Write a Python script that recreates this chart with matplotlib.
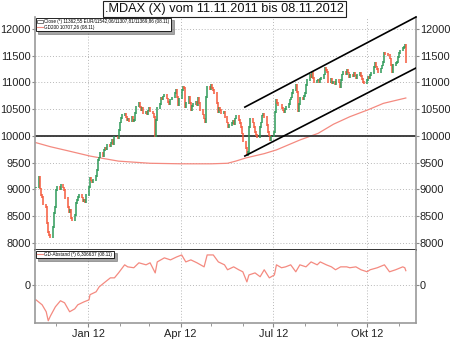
import numpy as np
import pandas as pd
import matplotlib
matplotlib.use("Agg")
import matplotlib.pyplot as plt
from matplotlib.lines import Line2D
from matplotlib.patches import Patch

plt.rcParams['font.family'] = ['Liberation Sans', 'DejaVu Sans']

# ---- data ----
closes = [
    9040, 9230, 9020, 8900, 8860, 8720, 8670, 8370, 8200, 8150,
    8110, 8300, 8560, 8670, 8990, 9050, 9010, 9080, 9040, 8990,
    8840, 8670, 8580, 8620, 8470, 8430, 8520, 8750, 8800, 8860,
    8900, 8850, 8780, 8800, 8760, 8900, 9050, 9210, 9170, 9140,
    9180, 9250, 9360, 9550, 9600, 9680, 9620, 9740, 9780, 9760,
    9830, 9800, 9870, 9920, 9850, 9980, 9950, 10110, 10250, 10340,
    10390, 10420, 10350, 10290, 10330, 10280, 10350, 10270, 10300, 10430,
    10550, 10620, 10540, 10490, 10530, 10420, 10450, 10400, 10480, 10520,
    10460, 10420, 10360, 9990, 10300, 10520, 10600, 10710, 10680, 10740,
    10770, 10700, 10640, 10600, 10680, 10720, 10800, 10860, 10730, 10580,
    10700, 10860, 10920, 10900, 10540, 10620, 10730, 10620, 10490, 10560,
    10600, 10640, 10580, 10710, 10620, 10490, 10400, 10330, 10260, 10730,
    10920, 10880, 10950, 10900, 10860, 10800, 10620, 10450, 10520, 10490,
    10420, 10450, 10360, 10250, 10170, 10200, 10240, 10280, 10220, 10330,
    10380, 10300, 10240, 10170, 10050, 9900, 9780, 9650, 9700, 10170,
    10330, 10250, 10170, 10080, 10020, 9980, 10170, 10250, 10380, 10420,
    10350, 10200, 10070, 10010, 9930, 9990, 10080, 10450, 10680, 10620,
    10580, 10520, 10480, 10450, 10510, 10540, 10600, 10680, 10720, 10800,
    10860, 10950, 10820, 10470, 10600, 10710, 10680, 10750, 10800, 10950,
    11050, 11140, 11100, 11180, 11080, 11010, 11040, 11050, 11000, 11060,
    11080, 11150, 11270, 11230, 11200, 11010, 11060, 10980, 11010, 10960,
    11050, 11000, 10920, 11050, 11150, 11200, 11160, 11230, 11190, 11100,
    11150, 11120, 11180, 11130, 11080, 11140, 11180, 11120, 11060, 11010,
    10990, 11050, 11100, 11080, 11140, 11180, 11290, 11360, 11300, 11250,
    11200, 11260, 11320, 11380, 11550, 11530, 11510, 11450, 11330, 11200,
    11330, 11360, 11380, 11480, 11550, 11600, 11640, 11660, 11700, 11370,
]
last_day = '2012-11-08'

ma_days = [0, 10, 22, 37, 45, 57, 80, 101, 122, 134, 140, 146, 160, 168,
           185, 197, 208, 220, 232, 243, 259]
ma_vals = [9875, 9800, 9720, 9625, 9590, 9530, 9490, 9480, 9480, 9490, 9530,
           9590, 9670, 9740, 9925, 10050, 10220, 10360, 10490, 10610, 10710]

dist_days = [0, 4, 6, 8, 10, 13, 16, 20, 23, 26, 29, 33, 36, 37, 41, 44, 48,
             51, 55, 57, 61, 64, 68, 71, 76, 80, 83, 85, 90, 94, 98, 101, 105,
             108, 112, 117, 120, 124, 127, 131, 134, 138, 141, 145, 147, 149,
             153, 156, 160, 163, 166, 168, 171, 175, 178, 181, 185, 189, 192,
             196, 199, 203, 206, 210, 213, 217, 220, 224, 227, 231, 234, 239,
             244, 247, 251, 256, 258, 259]
dist_vals = [-6.7, -8.9, -12, -16, -14, -9.8, -7.1, -8, -12, -10.7, -8.9, -7.6,
             -6.7, -4.4, -3.1, -0.9, 1.3, 3.1, 3.1, 5.3, 8.9, 8, 7.6, 9.8, 8.9,
             9.8, 5.3, 10.2, 12, 11.1, 12.4, 13.3, 10.2, 11.1, 9.8, 8, 13.3,
             13.3, 10.2, 8.9, 6.7, 8, 6.7, 5.8, 1.3, 4.4, 5.3, 3.6, 6.7, 3.1,
             4.4, 8.9, 7.6, 8, 8.9, 5.8, 8.9, 8, 10.2, 8.9, 10.2, 8.9, 8, 6.7,
             8, 8, 7.6, 8, 6.7, 5.8, 6.7, 7.6, 8.9, 5.8, 6.7, 8, 7.6, 6.3]

support_level = 10000
channel_dates = ['2012-06-03', '2012-11-18']
channel_upper = [10540, 12224]
channel_lower = [9626, 11271]

title = '.MDAX (X) vom 11.11.2011 bis 08.11.2012'
legend_close = 'Close (*) 11362,55 EUR/11542,06/11307,81/11369,86 (08.11)'
legend_ma = 'GD200 10707,26 (08.11)'
legend_dist = 'GD-Abstand (*) 6,306637 (08.11)'
price_ticks = [8000, 8500, 9000, 9500, 10000, 10500, 11000, 11500, 12000]
x_tick_dates = ['2012-01-01', '2012-04-01', '2012-07-01', '2012-10-01']
x_tick_labels = ['Jan 12', 'Apr 12', 'Jul 12', 'Okt 12']

# ---- figure ----
dates = pd.bdate_range(end=last_day, periods=len(closes))
cl = np.array(closes, dtype=float)
op = np.concatenate([[cl[0]], cl[:-1]])
up = cl >= op
GREEN = '#2e9a58'
RED = '#f55a3c'

fig = plt.figure(figsize=(4.5, 3.41), dpi=100)
ax = fig.add_axes([35/450, 1-250/341, (416-35)/450, (250-17)/341])
ax2 = fig.add_axes([35/450, 1-323/341, (416-35)/450, (323-250)/341], sharex=ax)

xmin, xmax = pd.Timestamp('2011-11-10'), pd.Timestamp('2012-11-18')
grid_kw = dict(color='#b8b8b8', linestyle=(0, (1, 2)), linewidth=0.7)

# price candles
lo = np.minimum(op, cl)
hi = np.maximum(op, cl)
colors = [GREEN if u else RED for u in up]
ax.vlines(dates, lo - 15, hi + 15, colors=colors, linewidth=1.1, zorder=3)
ax.plot(pd.DatetimeIndex(dates[ma_days]), ma_vals, color='#f48a80', lw=0.9, zorder=2)
ax.axhline(support_level, color='#333333', lw=1.3, zorder=2)
cd = pd.to_datetime(channel_dates)
ax.plot(cd, channel_upper, color='black', lw=1.2, zorder=4, clip_on=False)
ax.plot(cd, channel_lower, color='black', lw=1.2, zorder=4)

ax.set_ylim(7869, 12224)
ax.set_xlim(xmin, xmax)
ax.set_yticks(price_ticks)
ax.set_yticklabels([str(t) for t in price_ticks])
for t in price_ticks:
    ax.axhline(t, zorder=0, **grid_kw)
for d in x_tick_dates:
    ax.axvline(pd.Timestamp(d), zorder=0, **grid_kw)
    ax2.axvline(pd.Timestamp(d), zorder=0, **grid_kw)
tick_kw = dict(labelsize=7.9, length=2.2, width=0.8, color='#888888', pad=0.6,
               labelcolor='#222222')
ax.tick_params(axis='y', which='both', left=True, right=True, labelleft=True,
               labelright=True, **tick_kw)
ax.tick_params(axis='x', which='both', bottom=False, labelbottom=False)

# lower panel
ax2.plot(pd.DatetimeIndex(dates[dist_days]), dist_vals, color='#f48a80', lw=0.9)
ax2.set_ylim(-17, 15.5)
ax2.set_yticks([0])
ax2.set_yticklabels(['0'])
ax2.axhline(0, zorder=0, **grid_kw)
ax2.tick_params(axis='y', left=True, right=True, labelleft=True, labelright=True,
                **tick_kw)
ax2.set_xticks(pd.to_datetime(x_tick_dates))
ax2.set_xticklabels(x_tick_labels)
ax2.set_xticks(pd.date_range('2011-12-01', '2012-11-01', freq='MS'), minor=True)
ax2.tick_params(axis='x', which='major', labelsize=7.9, length=3, width=0.8,
                color='#888888', pad=1.5, labelcolor='#222222')
ax2.tick_params(axis='x', which='minor', length=2, width=0.6, color='#888888')

for a in (ax, ax2):
    for s in ('left', 'right', 'bottom'):
        a.spines[s].set_color('#999999')
        a.spines[s].set_linewidth(1.2)
    a.spines['top'].set_visible(False)
ax.spines['bottom'].set_color('#333333')
ax.spines['bottom'].set_linewidth(1.4)

# legends
h1 = [Patch(facecolor='white', edgecolor='#444444', linewidth=0.5),
      Line2D([], [], color='#f48a80', lw=0.8)]
lg = ax.legend(h1, [legend_close, legend_ma], loc='upper left', fontsize=3.3,
               frameon=True, fancybox=False, shadow=True, edgecolor='black',
               framealpha=1, borderaxespad=0.15, handlelength=1.2,
               handleheight=0.8, labelspacing=0.1, borderpad=0.3,
               handletextpad=0.4)
lg.get_frame().set_linewidth(0.6)
lg.set_zorder(10)
h2 = [Line2D([], [], color='#f48a80', lw=0.8)]
lg2 = ax2.legend(h2, [legend_dist], loc='upper left', fontsize=3.3, frameon=True,
                 fancybox=False, shadow=True, edgecolor='black', framealpha=1,
                 borderaxespad=0.15, handlelength=1.2, borderpad=0.3,
                 handletextpad=0.4)
lg2.get_frame().set_linewidth(0.6)

fig.text(0.499, 1-9/341, title, ha='center', va='center', fontsize=9.2,
         color='#111111',
         bbox=dict(boxstyle='square,pad=0.18', fc='white', ec='#222222', lw=0.8))

fig.savefig('out.png', dpi=100)
